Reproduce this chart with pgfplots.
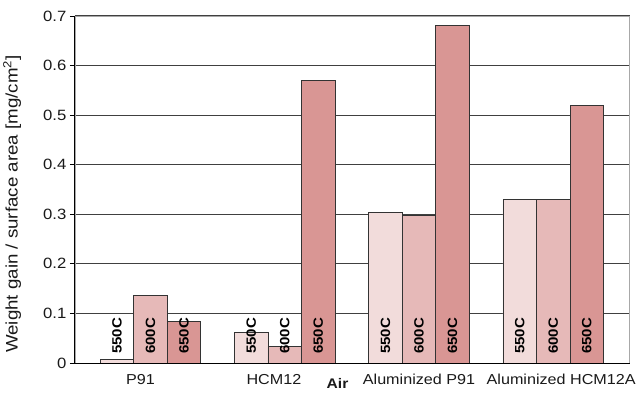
\documentclass[border=0pt]{standalone}
\usepackage{fontspec}
\setmainfont{Liberation Sans}[FakeStretch=1.12]
\usepackage{pgfplots}
\pgfplotsset{compat=1.18}
\definecolor{cA}{HTML}{F2DCDB}
\definecolor{cB}{HTML}{E6B9B8}
\definecolor{cC}{HTML}{D99694}
\definecolor{gridc}{HTML}{404040}
\definecolor{framec}{HTML}{A8A8A8}
\begin{document}
\begin{tikzpicture}
\begin{axis}[name=ax, scale only axis, width=558pt, height=349pt,
  xmin=0.437, xmax=4.57, ymin=0, ymax=0.7,
  ybar=0pt, bar width=0.25,
  ytick={0,0.1,0.2,0.3,0.4,0.5,0.6,0.7},
  /pgf/number format/assume math mode=true,
  /pgf/number format/fixed, /pgf/number format/precision=1,
  yticklabel style={font=\fontsize{15}{16}\selectfont, text=black!90},
  ytick pos=left, tick align=outside, major tick length=5pt,
  ytick style={draw=black, line width=0.8pt},
  ymajorgrids, grid style={draw=gridc, line width=0.9pt},
  xtick={0.926,1.919,3,4.059},
  xticklabels={P91,HCM12,Aluminized P91,Aluminized HCM12A},
  xtick style={draw=none},
  xticklabel style={font=\fontsize{14.5}{16}\selectfont, text=black!90, yshift=-3pt},
  axis line style={draw=framec, line width=0.8pt},
  ylabel={Weight gain / surface area [mg/cm\textsuperscript{2}]},
  ylabel style={at={(axis description cs:0,0.458)}, anchor=center, yshift=63pt, font=\fontsize{16.8}{18}\selectfont, text=black!90},
  clip=false,
]
\addplot[fill=cA, draw=black!80, line width=0.8pt] coordinates {(1,0.007) (2,0.062) (3,0.303) (4,0.330)};
\addplot[fill=cB, draw=black!80, line width=0.8pt] coordinates {(1,0.137) (2,0.034) (3,0.297) (4,0.330)};
\addplot[fill=cC, draw=black!80, line width=0.8pt] coordinates {(1,0.084) (2,0.570) (3,0.680) (4,0.519)};
\draw[black, line width=0.9pt] (rel axis cs:0,1) -- (rel axis cs:0,0) -- (rel axis cs:1,0);
\pgfplotsinvokeforeach{1,2,3,4}{
  \node[rotate=90, anchor=west, inner sep=0pt, font=\bfseries\fontsize{13.5}{15}\selectfont] at ([yshift=9pt]axis cs:#1-0.25,0) {550C};
  \node[rotate=90, anchor=west, inner sep=0pt, font=\bfseries\fontsize{13.5}{15}\selectfont] at ([yshift=9pt]axis cs:#1,0) {600C};
  \node[rotate=90, anchor=west, inner sep=0pt, font=\bfseries\fontsize{13.5}{15}\selectfont] at ([yshift=9pt]axis cs:#1+0.25,0) {650C};
}
\node[font=\bfseries\fontsize{14}{16}\selectfont, text=black!90] at ([yshift=-21pt]axis cs:2.393,0) {Air};
\end{axis}
\path ([shift={(-74pt,-27pt)}]ax.south west) rectangle ++(639pt,392pt);
\end{tikzpicture}
\end{document}
